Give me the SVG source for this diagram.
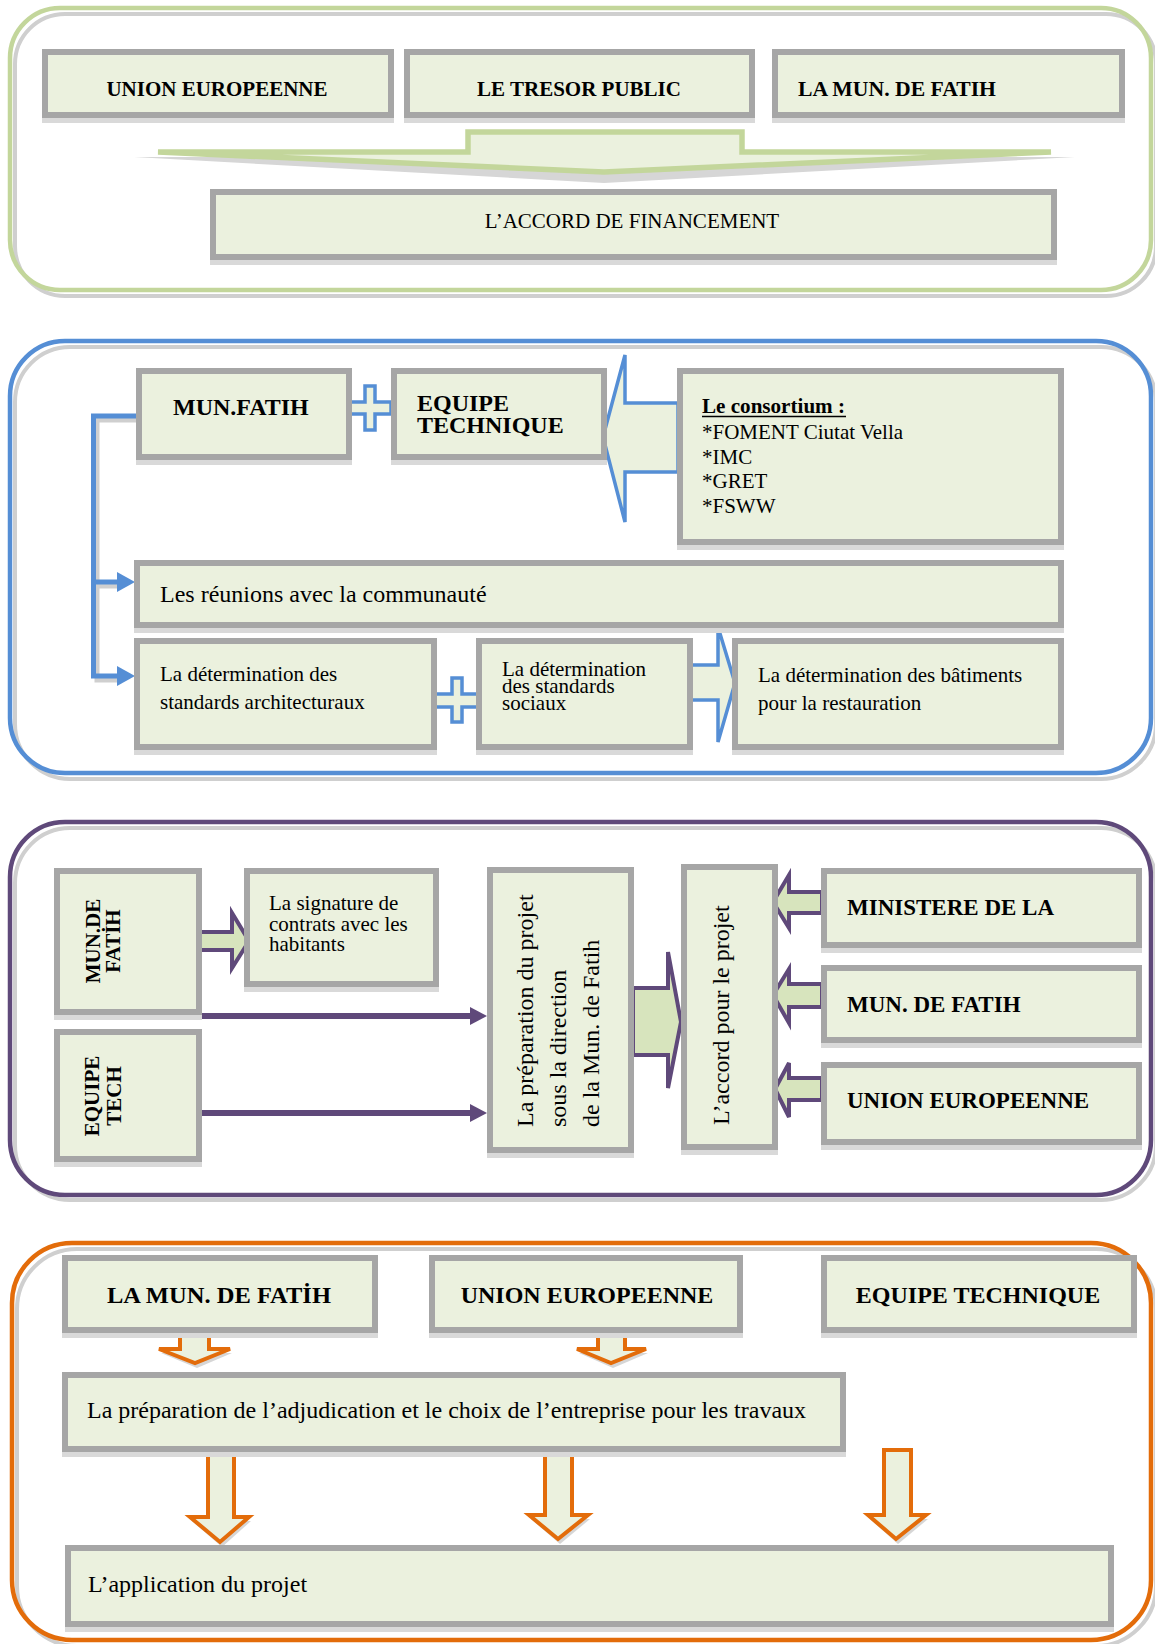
<svg xmlns="http://www.w3.org/2000/svg" width="1155" height="1644" viewBox="0 0 1155 1644">
<style>
.bx{fill:#ebf1de;stroke:#a6a6a6;stroke-width:6}
.sh{fill:#d9d9d9}
.t{font-family:"Liberation Serif","Times New Roman",serif;fill:#000}
.b{font-weight:bold}
.fr{fill:none;stroke-width:4.5}
.frs{fill:none;stroke:#cfcfcf;stroke-width:4}
.ga{fill:#ebf1de;stroke:#c3d69b;stroke-width:5.5;stroke-linejoin:miter}
.ba{fill:#ebf1de;stroke:#558ed5;stroke-width:3.5}
.pa{fill:#d7e4bd;stroke:#5f497a;stroke-width:4}
.oa{fill:#ebf1de;stroke:#e36c0a;stroke-width:4}
.ash{fill:#d6d6d6}
</style>
<defs>
<marker id="mb" markerUnits="userSpaceOnUse" markerWidth="20" markerHeight="24" refX="0" refY="10" orient="auto"><path d="M0,0 L18,10 L0,20 z" fill="#558ed5"/></marker>
<marker id="mp" markerUnits="userSpaceOnUse" markerWidth="20" markerHeight="24" refX="0" refY="9" orient="auto"><path d="M0,0 L17,9 L0,18 z" fill="#5f497a"/></marker>
</defs>

<!-- Frames -->
<g id="frames">
<rect class="frs" x="15" y="14" width="1141" height="282" rx="50"/>
<rect class="fr" stroke="#c3d69b" x="10" y="8" width="1141" height="282" rx="50"/>
<rect class="frs" x="15" y="347" width="1141" height="432" rx="55"/>
<rect class="fr" stroke="#558ed5" x="10" y="341" width="1141" height="432" rx="55"/>
<rect class="frs" x="15" y="828" width="1141" height="372" rx="55"/>
<rect class="fr" stroke="#5f497a" x="10" y="822" width="1141" height="373" rx="55"/>
<rect class="frs" x="17" y="1249" width="1139" height="397" rx="60"/>
<rect class="fr" stroke="#e36c0a" x="12" y="1243" width="1139" height="397" rx="60"/>
</g>

<!-- Connectors -->
<g id="connectors">
<polygon class="ash" points="134,157 1075,157 604,183"/>
<polygon class="ga" points="158,152 468,152 468,132 742,132 742,152 1051,152 604,172"/>

<polygon class="ba" points="678,403 625,403 625,355 603,437 625,522 625,472 678,472"/>
<path d="M139,420 H97 V680 H120 M97,586 H120" fill="none" stroke="#cfcfcf" stroke-width="5"/>
<path d="M136,416 H93.5 V676 H117" fill="none" stroke="#558ed5" stroke-width="5" marker-end="url(#mb)"/>
<path d="M93.5,582 H117" fill="none" stroke="#558ed5" stroke-width="5" marker-end="url(#mb)"/>
<path class="ba" d="M365,386 h10 v16 h16 v12 h-16 v16 h-10 v-16 h-16 v-12 h16 z"/>
<path class="ba" d="M452,678 h10 v16 h16 v13 h-16 v15 h-10 v-15 h-17 v-13 h17 z"/>
<polygon class="ba" points="682,665 718,665 718,627 735,683 718,742 718,700 682,700"/>

<polygon class="pa" points="197,932 232,932 232,913 249,941 232,968 232,950 197,950"/>
<path d="M202,1016 H470" stroke="#5f497a" stroke-width="6" fill="none" marker-end="url(#mp)"/>
<path d="M202,1113 H470" stroke="#5f497a" stroke-width="6" fill="none" marker-end="url(#mp)"/>
<polygon class="pa" points="633,988 668,988 668,952 681,1022 668,1088 668,1055 633,1055"/>
<polygon class="pa" points="822,892 789,892 789,875 773,902 789,928 789,913 822,913"/>
<polygon class="pa" points="822,984 789,984 789,969 773,995 789,1023 789,1007 822,1007"/>
<polygon class="pa" points="822,1078 789,1078 789,1063 775,1089 789,1117 789,1100 822,1100"/>

<polygon class="ash" points="161,1353 232,1353 197,1368"/>
<polygon class="oa" points="180,1336 209,1336 209,1349 230,1349 195,1363 159,1349 180,1349"/>
<polygon class="ash" points="579,1353 648,1353 613,1368"/>
<polygon class="oa" points="598,1336 625,1336 625,1349 646,1349 611,1363 577,1349 598,1349"/>
<polygon class="ash" points="192,1521 251,1521 222,1547"/>
<polygon class="oa" points="208,1452 234,1452 234,1517 249,1517 220,1542 190,1517 208,1517"/>
<polygon class="ash" points="531,1519 590,1519 560,1544"/>
<polygon class="oa" points="545,1450 572,1450 572,1515 588,1515 558,1539 529,1515 545,1515"/>
<polygon class="ash" points="870,1519 928,1519 898,1544"/>
<polygon class="oa" points="884,1450 911,1450 911,1515 926,1515 896,1539 868,1515 884,1515"/>
</g>

<!-- Section 1 -->
<g id="n-ue1"><rect class="sh" x="42" y="54" width="352" height="69"/><rect class="bx" x="45" y="52" width="346" height="63"/><text class="t b" x="217" y="96" font-size="21" text-anchor="middle">UNION EUROPEENNE</text></g>
<g id="n-tresor"><rect class="sh" x="404" y="54" width="351" height="69"/><rect class="bx" x="407" y="52" width="345" height="63"/><text class="t b" x="579" y="96" font-size="21" text-anchor="middle">LE TRESOR PUBLIC</text></g>
<g id="n-fatih1"><rect class="sh" x="772" y="54" width="353" height="69"/><rect class="bx" x="775" y="52" width="347" height="63"/><text class="t b" x="798" y="96" font-size="21" textLength="198" lengthAdjust="spacingAndGlyphs">LA MUN. DE FATIH</text></g>
<g id="n-accord-fin"><rect class="sh" x="210" y="194" width="847" height="71"/><rect class="bx" x="213" y="192" width="841" height="65"/><text class="t" x="632" y="228" font-size="21" text-anchor="middle">L’ACCORD DE FINANCEMENT</text></g>

<!-- Section 2 -->
<g id="n-munfatih"><rect class="sh" x="136" y="373" width="216" height="92"/><rect class="bx" x="139" y="371" width="210" height="86"/><text class="t b" x="173" y="415" font-size="24">MUN.FATIH</text></g>
<g id="n-equipe"><rect class="sh" x="391" y="373" width="216" height="92"/><rect class="bx" x="394" y="371" width="210" height="86"/><text class="t b" x="417" y="411" font-size="24">EQUIPE</text><text class="t b" x="417" y="433" font-size="24">TECHNIQUE</text></g>
<g id="n-consortium"><rect class="sh" x="677" y="373" width="387" height="177"/><rect class="bx" x="680" y="371" width="381" height="171"/>
<text class="t b" x="702" y="413" font-size="20" textLength="143" lengthAdjust="spacingAndGlyphs">Le consortium :</text><line x1="702" y1="416.5" x2="846" y2="416.5" stroke="#000" stroke-width="1.5"/>
<text class="t" x="702" y="439" font-size="21">*FOMENT Ciutat Vella</text>
<text class="t" x="702" y="464" font-size="21">*IMC</text>
<text class="t" x="702" y="488" font-size="21">*GRET</text>
<text class="t" x="702" y="513" font-size="21">*FSWW</text></g>
<g id="n-reunions"><rect class="sh" x="134" y="565" width="930" height="68"/><rect class="bx" x="137" y="563" width="924" height="62"/><text class="t" x="160" y="602" font-size="24">Les réunions avec la communauté</text></g>
<g id="n-archi"><rect class="sh" x="134" y="643" width="303" height="112"/><rect class="bx" x="137" y="641" width="297" height="106"/><text class="t" x="160" y="681" font-size="21">La détermination des</text><text class="t" x="160" y="709" font-size="21">standards architecturaux</text></g>
<g id="n-sociaux"><rect class="sh" x="476" y="643" width="217" height="112"/><rect class="bx" x="479" y="641" width="211" height="106"/><text class="t" x="502" y="676" font-size="21">La détermination</text><text class="t" x="502" y="693" font-size="21">des standards</text><text class="t" x="502" y="710" font-size="21">sociaux</text></g>
<g id="n-batiments"><rect class="sh" x="732" y="643" width="332" height="112"/><rect class="bx" x="735" y="641" width="326" height="106"/><text class="t" x="758" y="682" font-size="21">La détermination des bâtiments</text><text class="t" x="758" y="710" font-size="21">pour la restauration</text></g>

<!-- Section 3 -->
<g id="n-munde"><rect class="sh" x="54" y="873" width="148" height="147"/><rect class="bx" x="57" y="871" width="142" height="141"/><text class="t b" font-size="21" text-anchor="middle" transform="translate(100,941) rotate(-90)">MUN.DE</text><text class="t b" font-size="21" text-anchor="middle" transform="translate(120,941) rotate(-90)">FATİH</text></g>
<g id="n-eqtech"><rect class="sh" x="54" y="1034" width="148" height="133"/><rect class="bx" x="57" y="1032" width="142" height="127"/><text class="t b" font-size="21" text-anchor="middle" transform="translate(99,1096) rotate(-90)">EQUIPE</text><text class="t b" font-size="21" text-anchor="middle" transform="translate(121,1096) rotate(-90)">TECH</text></g>
<g id="n-signature"><rect class="sh" x="244" y="873" width="195" height="119"/><rect class="bx" x="247" y="871" width="189" height="113"/><text class="t" x="269" y="910" font-size="21">La signature de</text><text class="t" x="269" y="931" font-size="21">contrats avec les</text><text class="t" x="269" y="951" font-size="21">habitants</text></g>
<g id="n-preparation"><rect class="sh" x="487" y="872" width="147" height="286"/><rect class="bx" x="490" y="870" width="141" height="280"/>
<text class="t" font-size="24" transform="translate(533,1127) rotate(-90)">La préparation du projet</text>
<text class="t" font-size="24" transform="translate(566,1127) rotate(-90)">sous la direction</text>
<text class="t" font-size="24" transform="translate(599,1127) rotate(-90)">de la Mun. de Fatih</text></g>
<g id="n-accord-projet"><rect class="sh" x="681" y="869" width="97" height="286"/><rect class="bx" x="684" y="867" width="91" height="280"/><text class="t" font-size="24" transform="translate(729,1125) rotate(-90)">L’accord pour le projet</text></g>
<g id="n-ministere"><rect class="sh" x="821" y="873" width="321" height="80"/><rect class="bx" x="824" y="871" width="315" height="74"/><text class="t b" x="847" y="915" font-size="23">MINISTERE DE LA</text></g>
<g id="n-fatih3"><rect class="sh" x="821" y="970" width="321" height="78"/><rect class="bx" x="824" y="968" width="315" height="72"/><text class="t b" x="847" y="1012" font-size="23">MUN. DE FATIH</text></g>
<g id="n-ue3"><rect class="sh" x="821" y="1067" width="321" height="83"/><rect class="bx" x="824" y="1065" width="315" height="77"/><text class="t b" x="847" y="1108" font-size="23">UNION EUROPEENNE</text></g>

<!-- Section 4 -->
<g id="n-fatih4"><rect class="sh" x="62" y="1260" width="316" height="78"/><rect class="bx" x="65" y="1258" width="310" height="72"/><text class="t b" x="219" y="1303" font-size="23" text-anchor="middle" textLength="224" lengthAdjust="spacingAndGlyphs">LA MUN. DE FATİH</text></g>
<g id="n-ue4"><rect class="sh" x="429" y="1260" width="314" height="78"/><rect class="bx" x="432" y="1258" width="308" height="72"/><text class="t b" x="587" y="1303" font-size="24" text-anchor="middle">UNION EUROPEENNE</text></g>
<g id="n-eq4"><rect class="sh" x="821" y="1260" width="316" height="78"/><rect class="bx" x="824" y="1258" width="310" height="72"/><text class="t b" x="978" y="1303" font-size="24" text-anchor="middle">EQUIPE TECHNIQUE</text></g>
<g id="n-adjudication"><rect class="sh" x="62" y="1377" width="784" height="80"/><rect class="bx" x="65" y="1375" width="778" height="74"/><text class="t" x="87" y="1418" font-size="24">La préparation de l’adjudication et le choix de l’entreprise pour les travaux</text></g>
<g id="n-application"><rect class="sh" x="65" y="1550" width="1049" height="82"/><rect class="bx" x="68" y="1548" width="1043" height="76"/><text class="t" x="88" y="1592" font-size="24">L’application du projet</text></g>
</svg>
